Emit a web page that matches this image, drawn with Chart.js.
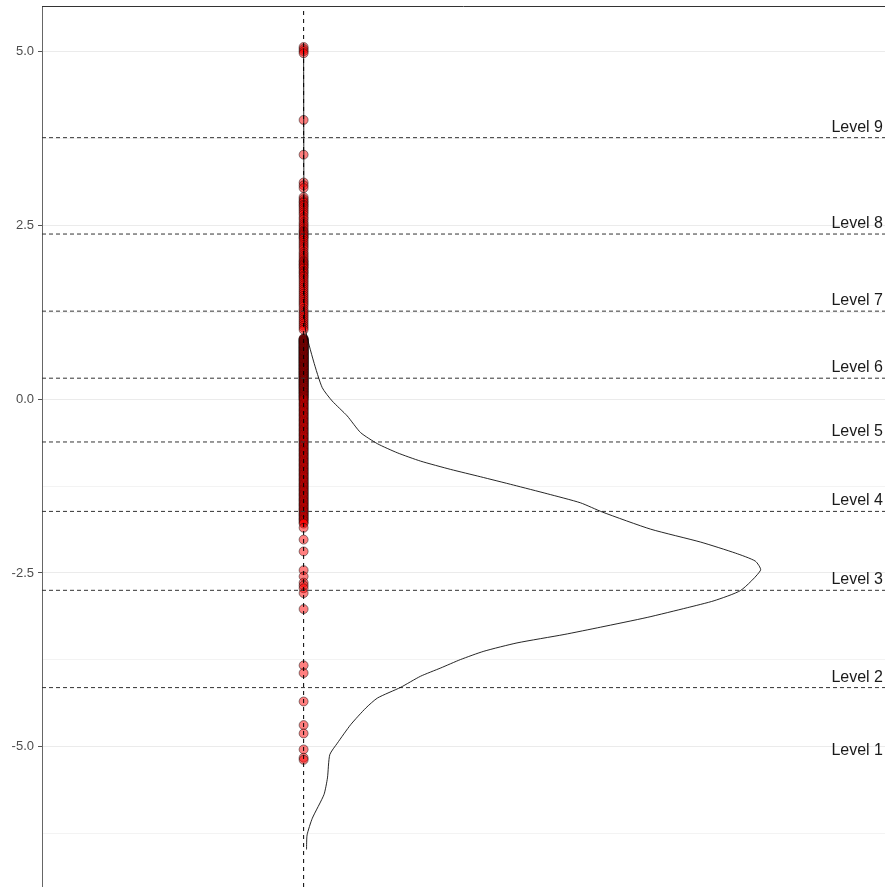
<!DOCTYPE html>
<html>
<head>
<meta charset="utf-8">
<script src="https://cdn.jsdelivr.net/npm/chart.js@4"></script>
<style>
    body { margin: 0; background: #ffffff; }
    #wrap { width: 885px; height: 887px; position: relative; }
</style>
</head>
<body>
<div id="wrap"><canvas id="myChart"></canvas></div>
<script>
// nilai titik (semua di x = 0)
const pointY = [
    5.07, 5.04, 5.01, 4.98,
    4.02, 3.52, 3.12, 3.08, 3.04,
    2.91, 2.88, 2.85, 2.83, 2.80, 2.78, 2.75, 2.72, 2.69, 2.66, 2.62, 2.59, 2.55, 2.52, 2.49, 2.46,
    2.43, 2.41, 2.39, 2.37, 2.35, 2.33, 2.31, 2.28, 2.25, 2.22, 2.19, 2.16, 2.12, 2.09, 2.06, 2.03,
    2.00, 1.98, 1.96, 1.94, 1.92, 1.90, 1.88, 1.85, 1.83, 1.81, 1.78, 1.76, 1.73, 1.70, 1.67, 1.64,
    1.61, 1.58, 1.55, 1.52, 1.49, 1.46, 1.43, 1.40, 1.37, 1.34, 1.30, 1.27, 1.24, 1.21, 1.18, 1.15,
    1.12, 1.09, 1.06, 1.03, 1.00,
    0.875, 0.868, 0.862, 0.855, 0.846, 0.840, 0.832, 0.825, 0.817, 0.810, 0.802, 0.795, 0.786, 0.778,
    0.770, 0.763, 0.755, 0.748, 0.740, 0.731, 0.724, 0.716, 0.708, 0.700, 0.692, 0.685, 0.676, 0.668,
    0.661, 0.652, 0.645, 0.637, 0.628, 0.620, 0.612, 0.605, 0.596, 0.588, 0.580, 0.572, 0.565, 0.556,
    0.548, 0.540, 0.531, 0.523, 0.515, 0.507, 0.498, 0.490, 0.482, 0.473, 0.465, 0.456, 0.448, 0.440,
    0.431, 0.423, 0.414, 0.405, 0.397, 0.388, 0.379, 0.370, 0.362, 0.353, 0.344, 0.335, 0.326, 0.317,
    0.308, 0.299, 0.290, 0.281, 0.272, 0.262, 0.253, 0.244, 0.234, 0.225, 0.215, 0.206, 0.196, 0.186,
    0.177, 0.167, 0.157, 0.147, 0.137, 0.126, 0.116, 0.106, 0.095, 0.085, 0.074, 0.063, 0.052, 0.041,
    0.030, 0.019, 0.008,
    -0.004, -0.022, -0.040, -0.058, -0.075, -0.093, -0.110, -0.128, -0.146, -0.164, -0.182, -0.200,
    -0.218, -0.236, -0.254, -0.272, -0.290, -0.308, -0.326, -0.344, -0.362, -0.380, -0.398, -0.416,
    -0.434, -0.452, -0.470, -0.488, -0.506, -0.524, -0.542, -0.560, -0.578, -0.596, -0.614, -0.632,
    -0.650, -0.668, -0.686, -0.704, -0.722, -0.740, -0.758, -0.776, -0.794, -0.812, -0.830, -0.848,
    -0.866, -0.884, -0.902, -0.920, -0.938, -0.956, -0.974, -0.992, -1.010, -1.028, -1.046, -1.064,
    -1.082, -1.100, -1.118, -1.136, -1.154, -1.172, -1.190, -1.208, -1.226, -1.244, -1.262, -1.280,
    -1.298, -1.316, -1.334, -1.352, -1.370, -1.388, -1.406, -1.424, -1.442, -1.460, -1.478, -1.496,
    -1.514, -1.532, -1.550, -1.568, -1.586, -1.604, -1.622, -1.640, -1.658, -1.676, -1.694, -1.712,
    -1.730, -1.750, -1.770, -1.790, -1.850,
    -2.02, -2.19, -2.46, -2.55, -2.64, -2.68, -2.72, -2.79, -3.02,
    -3.83, -3.94, -4.35, -4.69, -4.81, -5.04, -5.16, -5.19
];

// kurva densitas (x = kepadatan, y = nilai)
const densityX = [0, 0.001, 0.003, 0.017, 0.032, 0.049, 0.075, 0.098, 0.127, 0.161, 0.201, 0.253, 0.304, 0.361,
    0.419, 0.476, 0.514, 0.597, 0.683, 0.743, 0.777, 0.786, 0.752, 0.706, 0.660, 0.591, 0.511, 0.448, 0.367,
    0.310, 0.270, 0.236, 0.201, 0.167, 0.127, 0.107, 0.081, 0.058, 0.045, 0.041, 0.035, 0.015, 0.006, 0.005];
const densityY = [5.05, 1.42, 1.01, 0.55, 0.167, -0.024, -0.24, -0.48, -0.64, -0.77, -0.89, -1.01, -1.115, -1.235,
    -1.36, -1.49, -1.624, -1.87, -2.056, -2.215, -2.33, -2.46, -2.75, -2.90, -3.00, -3.14, -3.28, -3.386, -3.507,
    -3.627, -3.746, -3.867, -3.987, -4.146, -4.30, -4.444, -4.683, -4.95, -5.115, -5.45, -5.69, -6.03, -6.27, -6.48];

// garis batas level (putus-putus) dan posisi label
const cutY = [-4.15, -2.75, -1.614, -0.615, 0.303, 1.268, 2.378, 3.765];
const levelLabels = ['Level 1', 'Level 2', 'Level 3', 'Level 4', 'Level 5', 'Level 6', 'Level 7', 'Level 8', 'Level 9'];
const labelY = [-5.20, -4.15, -2.75, -1.614, -0.615, 0.303, 1.268, 2.378, 3.765];

const majorTicks = [-5, -2.5, 0, 2.5, 5];
const minorTicks = [-6.25, -3.75, -1.25, 1.25, 3.75];

const xMin = -0.45, xMax = 1.0;
const yMin = -7.02, yMax = 5.66;

const datasets = [];

// kurva densitas paling atas
datasets.push({
    data: densityX.map((x, i) => ({ x: x, y: densityY[i] })),
    showLine: true,
    borderColor: 'rgba(0,0,0,0.85)',
    borderWidth: 1,
    pointRadius: 0,
    tension: 0.2,
    order: 0
});

// garis vertikal x = 0
datasets.push({
    data: [{ x: 0, y: yMin }, { x: 0, y: yMax }],
    showLine: true,
    borderColor: '#000000',
    borderWidth: 1,
    borderDash: [4, 4],
    pointRadius: 0,
    order: 1
});

cutY.forEach(c => {
    datasets.push({
        data: [{ x: xMin, y: c }, { x: xMax, y: c }],
        showLine: true,
        borderColor: '#333333',
        borderWidth: 1,
        borderDash: [4, 3],
        pointRadius: 0,
        order: 2
    });
});

datasets.push({
    data: pointY.map(v => ({ x: 0, y: v })),
    pointRadius: 4.5,
    pointBackgroundColor: 'rgba(255,0,0,0.5)',
    pointBorderColor: 'rgba(0,0,0,0.45)',
    pointBorderWidth: 1,
    order: 3
});

// label level + garis atas panel
const levelText = {
    id: 'levelText',
    afterDatasetsDraw(chart) {
        const ctx = chart.ctx;
        const area = chart.chartArea;
        const yScale = chart.scales.y;
        ctx.save();
        ctx.font = '16px "Liberation Sans", Arial, sans-serif';
        ctx.fillStyle = '#1a1a1a';
        ctx.textAlign = 'right';
        ctx.textBaseline = 'alphabetic';
        levelLabels.forEach((t, i) => {
            ctx.fillText(t, area.right - 2, yScale.getPixelForValue(labelY[i]) - 6);
        });
        ctx.strokeStyle = '#333333';
        ctx.lineWidth = 1;
        ctx.beginPath();
        ctx.moveTo(area.left, area.top + 0.5);
        ctx.lineTo(area.right, area.top + 0.5);
        ctx.stroke();
        ctx.restore();
    }
};

new Chart(document.getElementById('myChart').getContext('2d'), {
    type: 'scatter',
    data: { datasets: datasets },
    options: {
        responsive: true,
        maintainAspectRatio: false,
        animation: false,
        layout: { autoPadding: false, padding: { top: 6, right: 0, bottom: 0, left: 0 } },
        plugins: { legend: { display: false }, tooltip: { enabled: false } },
        scales: {
            x: { type: 'linear', min: xMin, max: xMax, display: false },
            y: {
                type: 'linear',
                min: yMin,
                max: yMax,
                afterBuildTicks: scale => {
                    scale.ticks = majorTicks.concat(minorTicks).sort((a, b) => a - b).map(v => ({ value: v }));
                },
                afterFit: scale => {
                    scale.width = 42;
                    scale.paddingTop = 0;
                    scale.paddingBottom = 0;
                },
                ticks: {
                    color: '#4d4d4d',
                    font: { family: '"Liberation Sans", Arial, sans-serif', size: 13 },
                    padding: 4,
                    callback: v => majorTicks.includes(v) ? v.toFixed(1) : ''
                },
                grid: {
                    color: c => majorTicks.includes(c.tick.value) ? '#ebebeb' : '#f3f3f3',
                    tickColor: c => majorTicks.includes(c.tick.value) ? '#555555' : 'rgba(0,0,0,0)',
                    tickLength: 4,
                    lineWidth: 1
                },
                border: { display: true, color: '#666666', width: 1 }
            }
        }
    },
    plugins: [levelText]
});
</script>
</body>
</html>
